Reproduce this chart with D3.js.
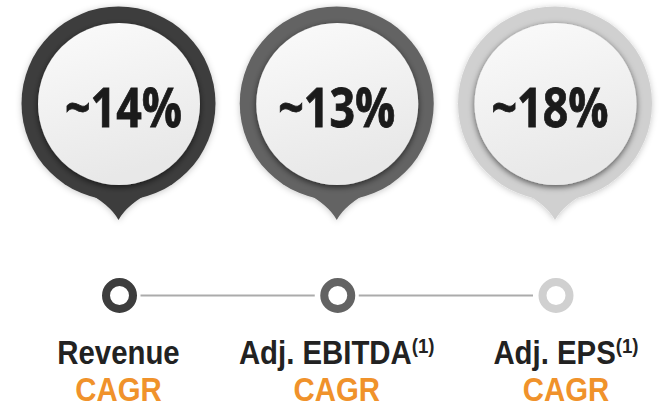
<!DOCTYPE html>
<html lang="en">
<head>
    <meta charset="UTF-8">
    <title>CAGR pins</title>
    <style>
        body { margin: 0; background: #fff; }
    </style>
</head>
<body>

    <svg id="svg" width="661" height="408"></svg>

    <script src="https://d3js.org/d3.v7.min.js"></script>
    <script>
        // chart data
        const metrics = ['Revenue', 'Adj. EBITDA', 'Adj. EPS']
        const values = ['~14%', '~13%', '~18%']
        const footnotes = ['', '(1)', '(1)']
        const subLabel = 'CAGR'

        const svg = d3.select('#svg')

        // small layout tweaks
        const valueShift = [5, 0, -5]
        const labelShift = [0, 0, 11]

        const xScale = d3.scalePoint()
            .domain(metrics)
            .range([118.5, 555])

        const colorScale = d3.scaleOrdinal()
            .domain(metrics)
            .range(['#3d3d3d', '#636363', '#d0d0d0'])

        const defs = svg.append('defs')

        const grad = defs.append('linearGradient')
            .attr('id', 'innerGrad')
            .attr('x1', 0).attr('y1', 0).attr('x2', 0.3).attr('y2', 1)
        grad.append('stop').attr('offset', '0%').attr('stop-color', '#fbfbfb')
        grad.append('stop').attr('offset', '100%').attr('stop-color', '#e8e8e8')

        defs.append('filter').attr('id', 'outerShadow')
            .attr('x', '-20%').attr('y', '-20%').attr('width', '140%').attr('height', '140%')
            .append('feDropShadow')
            .attr('dx', 0).attr('dy', 1).attr('stdDeviation', 3)
            .attr('flood-color', '#000').attr('flood-opacity', 0.22)

        defs.append('filter').attr('id', 'innerShadow')
            .attr('x', '-20%').attr('y', '-20%').attr('width', '140%').attr('height', '140%')
            .append('feDropShadow')
            .attr('dx', 0).attr('dy', 2).attr('stdDeviation', 3)
            .attr('flood-color', '#000').attr('flood-opacity', 0.6)

        const cy = 103.5
        const rOuter = 97
        const rInner = 81
        const tipY = 220

        const pins = svg.selectAll('g.pin')
            .data(metrics)
            .enter()
            .append('g')
            .attr('class', 'pin')
            .attr('transform', d => `translate(${xScale(d)},0)`)

        const body = pins.append('g')
            .attr('filter', 'url(#outerShadow)')
            .attr('fill', d => colorScale(d))

        body.append('circle')
            .attr('cx', 0)
            .attr('cy', cy)
            .attr('r', rOuter)

        // tail of the pin
        body.append('path')
            .attr('d', () => {
                const a = 22 * Math.PI / 180
                const jx = rOuter * Math.sin(a)
                const jy = cy + rOuter * Math.cos(a)
                const p = d3.path()
                p.moveTo(-jx, jy - 4)
                p.quadraticCurveTo(-8, cy + rOuter + 4, 0, tipY)
                p.quadraticCurveTo(8, cy + rOuter + 4, jx, jy - 4)
                p.closePath()
                return p.toString()
            })

        pins.append('circle')
            .attr('cx', 0.5)
            .attr('cy', cy + 0.5)
            .attr('r', rInner)
            .attr('fill', 'url(#innerGrad)')
            .attr('filter', 'url(#innerShadow)')

        pins.append('text')
            .attr('x', (d, i) => valueShift[i])
            .attr('y', 127)
            .attr('text-anchor', 'middle')
            .attr('font-family', 'Open Sans, sans-serif')
            .attr('font-weight', 700)
            .attr('font-size', 53)
            .attr('fill', '#1b1b1b')
            .attr('stroke', '#1b1b1b')
            .attr('stroke-width', 0.8)
            .attr('textLength', 117)
            .attr('lengthAdjust', 'spacingAndGlyphs')
            .text((d, i) => values[i])

        // timeline
        const dotY = 295.5
        const dotR = 13.5
        const gap = 8.5

        const segs = d3.pairs(metrics)
        svg.selectAll('line.link')
            .data(segs)
            .enter()
            .append('line')
            .attr('class', 'link')
            .attr('x1', d => xScale(d[0]) + dotR + gap)
            .attr('x2', d => xScale(d[1]) - dotR - gap)
            .attr('y1', dotY)
            .attr('y2', dotY)
            .attr('stroke', '#ababab')
            .attr('stroke-width', 1.8)

        svg.selectAll('circle.dot')
            .data(metrics)
            .enter()
            .append('circle')
            .attr('class', 'dot')
            .attr('cx', d => xScale(d) + 1)
            .attr('cy', dotY)
            .attr('r', dotR)
            .attr('fill', 'none')
            .attr('stroke', d => colorScale(d))
            .attr('stroke-width', 8)

        // labels
        const labels = svg.selectAll('g.label')
            .data(metrics)
            .enter()
            .append('g')
            .attr('class', 'label')
            .attr('transform', (d, i) => `translate(${xScale(d) + labelShift[i]},0) scale(0.89,1)`)
            .attr('font-family', 'Liberation Sans, Arial, sans-serif')
            .attr('font-weight', 700)
            .attr('text-anchor', 'middle')

        const main = labels.append('text')
            .attr('x', 0)
            .attr('y', 364)
            .attr('font-size', 33)
            .attr('fill', '#222')

        main.append('tspan')
            .text(d => d)
        main.append('tspan')
            .attr('font-size', 21)
            .attr('dy', -11)
            .text((d, i) => footnotes[i])

        labels.append('text')
            .attr('x', 0)
            .attr('y', 401)
            .attr('font-size', 33)
            .attr('fill', '#f0922b')
            .text(subLabel)
    </script>
</body>
</html>
